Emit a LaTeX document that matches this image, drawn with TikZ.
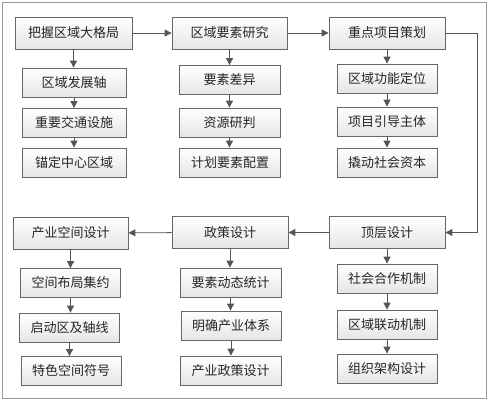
\documentclass[tikz,border=0pt]{standalone}
\usepackage{fontspec}
\setmainfont{Noto Sans CJK SC}
\usetikzlibrary{arrows.meta,shadows}
\definecolor{lineC}{HTML}{555555}
\definecolor{boxC}{HTML}{666666}
\definecolor{txtC}{HTML}{262626}
\begin{document}
\begin{tikzpicture}[x=1pt,y=-1pt,
  box/.style={draw=boxC, line width=0.8pt, top color=white, bottom color=black!10,
    drop shadow={shadow xshift=0.8pt, shadow yshift=-0.8pt, opacity=0.35, fill=black},
    text=txtC, font=\fontsize{13}{15}\selectfont, inner sep=0pt, minimum height=#1},
  box/.default=29pt,
  conn/.style={draw=lineC, line width=0.9pt, -{Triangle[length=7pt,width=7pt]}}]
\useasboundingbox (0,0) rectangle (489,401);
\draw[draw=gray!80, line width=0.8pt] (2,2) rectangle (486,398);
% top row
\node[box=32pt, minimum width=117pt] (a) at (73.5,33) {把握区域大格局};
\node[box=32pt, minimum width=115pt] (b) at (229.5,33) {区域要素研究};
\node[box=32pt, minimum width=116pt] (c) at (387,33) {重点项目策划};
\node[box, minimum width=104pt] (a1) at (74,82.5) {区域发展轴};
\node[box, minimum width=104pt] (a2) at (74,123) {重要交通设施};
\node[box, minimum width=104pt] (a3) at (74,162.5) {锚定中心区域};
\node[box, minimum width=101pt] (b1) at (229.5,80) {要素差异};
\node[box, minimum width=101pt] (b2) at (229.5,122.5) {资源研判};
\node[box, minimum width=101pt] (b3) at (230,162.5) {计划要素配置};
\node[box, minimum width=100pt] (c1) at (387,78.5) {区域功能定位};
\node[box, minimum width=100pt] (c2) at (387,121.5) {项目引导主体};
\node[box, minimum width=100pt] (c3) at (387,162.5) {撬动社会资本};
% bottom row
\node[box=32pt, minimum width=115pt] (d) at (70.5,233) {产业空间设计};
\node[box=32pt, minimum width=116pt] (e) at (230,232.5) {政策设计};
\node[box=32pt, minimum width=116pt] (f) at (387,232.5) {顶层设计};
\node[box, minimum width=100pt] (d1) at (70.5,283) {空间布局集约};
\node[box, minimum width=100pt] (d2) at (69.5,327.5) {启动区及轴线};
\node[box, minimum width=100pt] (d3) at (71,371) {特色空间符号};
\node[box, minimum width=101pt] (e1) at (230.5,282.5) {要素动态统计};
\node[box, minimum width=100pt] (e2) at (231,325.5) {明确产业体系};
\node[box, minimum width=101pt] (e3) at (230.5,370.5) {产业政策设计};
\node[box, minimum width=100pt] (f1) at (387,278.5) {社会合作机制};
\node[box, minimum width=100pt] (f2) at (387,324.5) {区域联动机制};
\node[box, minimum width=100pt] (f3) at (387,368.5) {组织架构设计};
\coordinate (k1) at (477,33);
\coordinate (k2) at (477,232.5);
% connectors
\draw[conn] (a) -- (b);
\draw[conn] (b) -- (c);
\draw[conn] (c.east) -- (k1) -- (k2) -- (f.east);
\draw[conn] (f) -- (e);
\draw[conn] (e) -- (d);
\foreach \p/\q in {a/a1,a1/a2,a2/a3,b/b1,b1/b2,b2/b3,c/c1,c1/c2,c2/c3,
                   d/d1,d1/d2,d2/d3,e/e1,e1/e2,e2/e3,f/f1,f1/f2,f2/f3}
  \draw[conn] (\p.south) -- (\p.south |- \q.north);
\end{tikzpicture}
\end{document}
